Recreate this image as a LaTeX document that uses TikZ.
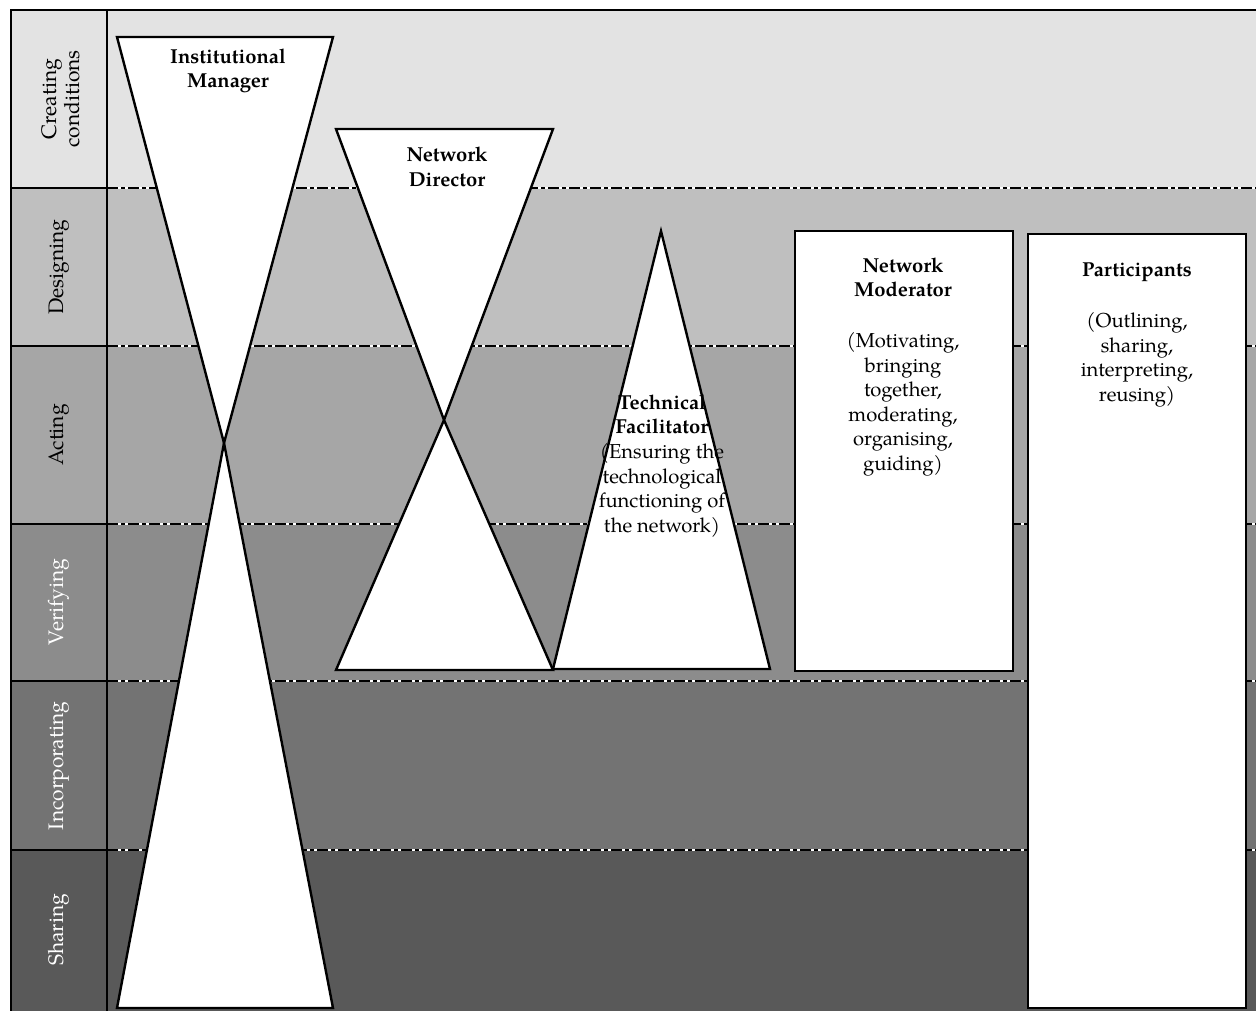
\documentclass[tikz,border=0pt]{standalone}
\usepackage{fontspec}
\setmainfont{TeX Gyre Pagella}
\definecolor{bandA}{HTML}{E3E3E3}
\definecolor{bandB}{HTML}{BFBFBF}
\definecolor{bandC}{HTML}{A6A6A6}
\definecolor{bandD}{HTML}{8C8C8C}
\definecolor{bandE}{HTML}{737373}
\definecolor{bandF}{HTML}{595959}
\begin{document}
\begin{tikzpicture}[x=1pt,y=-1pt,
  frame/.style={draw=black, line width=2.2pt},
  roleshape/.style={draw=black, fill=white, line width=2.4pt, line join=miter},
  ttl/.style={font=\fontsize{20.2}{24.6}\selectfont, align=center, inner sep=0pt},
  lbl/.style={font=\fontsize{21}{23.5}\selectfont, align=center, rotate=90, inner sep=0pt},
  gapline/.style={draw=white, line width=1.6pt},
  dashline/.style={draw=black, line width=1.6pt, dash pattern=on 11pt off 3pt on 4pt off 3pt}]
\useasboundingbox (0,0) rectangle (1256,1011);
\fill[white] (0,0) rectangle (1256,1011);
% bands
\fill[bandA] (11,10) rectangle (1256,188);
\fill[bandB] (11,188) rectangle (1256,346);
\fill[bandC] (11,346) rectangle (1256,524);
\fill[bandD] (11,524) rectangle (1256,681);
\fill[bandE] (11,681) rectangle (1256,850);
\fill[bandF] (11,850) rectangle (1256,1011);
% dashed separators
\foreach \yy in {188,346,524,681,850} {
  \coordinate (dl\yy) at (107,\yy);
  \coordinate (dr\yy) at (1256,\yy);
  \draw[gapline] (dl\yy) -- (dr\yy);
  \draw[dashline] (dl\yy) -- (dr\yy);
  \coordinate (sl\yy) at (11,\yy);
  \draw[frame] (sl\yy) -- (dl\yy);
}
% frame
\coordinate (fbl) at (11,1011);
\coordinate (ftl) at (11,10);
\coordinate (ftr) at (1256,10);
\coordinate (ct) at (107,10);
\coordinate (cb) at (107,1011);
\draw[frame] (fbl) -- (ftl) -- (ftr);
\draw[frame] (ct) -- (cb);
% labels
\node[lbl] (l1) at (61,99) {Creating\\conditions};
\node[lbl] (l2) at (59,267) {Designing};
\node[lbl] (l3) at (59,435) {Acting};
\node[lbl, text=white] (l4) at (59,602) {Verifying};
\node[lbl, text=white] (l5) at (59,766) {Incorporating};
\node[lbl, text=white] (l6) at (59,930) {Sharing};
% Institutional Manager hourglass
\draw[roleshape] (117,37) -- (333,37) -- (224,443) -- cycle;
\draw[roleshape] (117,1008) -- (333,1008) -- (224,443) -- cycle;
% Network Director hourglass
\draw[roleshape] (336,129) -- (553,129) -- (444,420) -- cycle;
\draw[roleshape] (336,670) -- (553,670) -- (444,420) -- cycle;
% Technical Facilitator triangle
\draw[roleshape] (553,669) -- (770,669) -- (661,231) -- cycle;
% rectangles
\draw[roleshape] (795,231) rectangle (1013,671);
\draw[roleshape] (1028,234) rectangle (1246,1008);
% texts
\node[ttl] (im) at (228,71) {\textbf{Institutional}\\\textbf{Manager}};
\node[ttl] (nd) at (447,167) {\textbf{Network}\\\textbf{Director}};
\node[ttl] (tf) at (662,466) {\textbf{Technical}\\\textbf{Facilitator}\\(Ensuring the\\technological\\functioning of\\the network)};
\node[ttl] (nm) at (903,367) {\textbf{Network}\\\textbf{Moderator}\\[26pt](Motivating,\\bringing\\together,\\moderating,\\organising,\\guiding)};
\node[ttl] (pa) at (1137,335) {\textbf{Participants}\\[26pt](Outlining,\\sharing,\\interpreting,\\reusing)};
\end{tikzpicture}
\end{document}
